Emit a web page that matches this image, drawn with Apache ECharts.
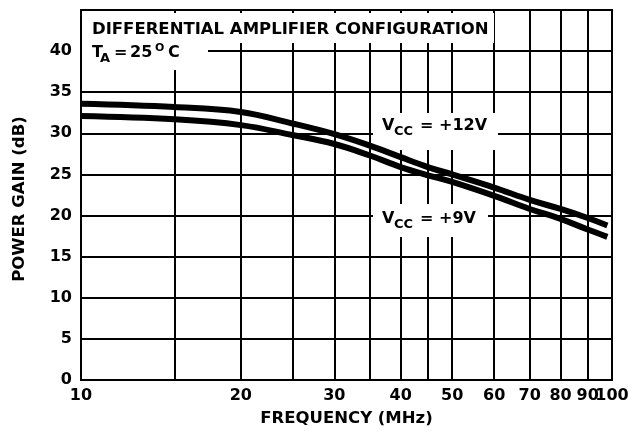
<!DOCTYPE html>
<html>
<head>
<meta charset="utf-8">
<script src="https://cdn.jsdelivr.net/npm/echarts@6/dist/echarts.min.js"></script>
<style>
  html, body { margin: 0; padding: 0; background: #fff; }
  #chart { width: 628px; height: 431px; }
</style>
</head>
<body>
<div id="chart"></div>
<script>
const freqs = [10, 15, 20, 25, 30, 35, 40, 45, 50, 60, 70, 80, 90, 98];
const gain12V = [33.6, 33.2, 32.6, 31.2, 29.9, 28.5, 27.1, 25.9, 25.0, 23.4, 21.9, 20.8, 19.7, 18.8];
const gain9V = [32.1, 31.7, 31.0, 29.8, 28.7, 27.3, 25.9, 24.9, 24.1, 22.4, 20.8, 19.6, 18.3, 17.4];
const gridFreqs = [15, 20, 25, 30, 35, 40, 45, 50, 60, 70, 80, 90];
const labelledFreqs = [20, 30, 40, 50, 60, 70, 80, 90];

const FONT = "'DejaVu Sans', 'Liberation Sans', sans-serif";
const ink = "#000";

function pairs(xs, ys) {
  return xs.map((x, i) => [x, ys[i]]);
}

// one piece of annotation text, placed by its top-left corner
function txt(text, left, top, size) {
  return {
    type: "text", zlevel: 1, z: 4, left, top,
    style: { text, font: "bold " + size + "px " + FONT, fill: ink }
  };
}

// white patch that hides the grid behind a note
function patch(x, y, width, height) {
  return { type: "rect", zlevel: 1, z: 3, shape: { x, y, width, height }, style: { fill: "#fff" } };
}

const chart = echarts.init(document.getElementById("chart"), null, { renderer: "canvas" });

const textBase = { fontFamily: FONT, fontWeight: "bold", fontSize: 16, color: ink };
const nameBase = { ...textBase, fontSize: 16.5 };

chart.setOption({
  animation: false,
  backgroundColor: "#fff",
  grid: {
    left: 81, right: 16, top: 10, bottom: 51,
    outerBoundsMode: "none",
    show: true, borderColor: ink, borderWidth: 2, backgroundColor: "transparent"
  },
  xAxis: {
    type: "log",
    logBase: 10,
    min: 10,
    max: 100,
    name: "FREQUENCY (MHz)",
    nameLocation: "middle",
    nameGap: 30,
    nameTextStyle: nameBase,
    axisLine: { lineStyle: { color: ink, width: 2 } },
    axisTick: { show: false },
    splitLine: { show: false },
    minorSplitLine: { show: false },
    axisLabel: { ...textBase, margin: 8 }
  },
  yAxis: {
    type: "value",
    min: 0,
    max: 45,
    interval: 5,
    name: "POWER GAIN (dB)",
    nameLocation: "middle",
    nameGap: 53,
    nameTextStyle: { ...nameBase, padding: [0, 0, 0, -8] },
    axisLine: { show: true, lineStyle: { color: ink, width: 2 } },
    axisTick: { show: false },
    splitLine: { show: true, lineStyle: { color: ink, width: 2 } },
    axisLabel: {
      ...textBase,
      margin: 9,
      formatter: (v) => (v === 45 ? "" : String(v))
    }
  },
  graphic: [
    patch(82, 13, 412, 30),
    patch(82, 43, 126, 27),
    patch(373, 113, 125, 37),
    patch(373, 204, 115, 33),

    txt("DIFFERENTIAL AMPLIFIER CONFIGURATION", 92, 21, 16.5),

    txt("T", 92, 45, 16),
    txt("A", 100, 52, 13),
    txt("=", 114, 45, 16),
    txt("25", 130, 45, 16),
    txt("O", 155, 43, 11),
    txt("C", 168, 45, 16),

    txt("V", 382, 118, 16),
    txt("CC", 394, 125, 13),
    txt("= +12V", 420, 118, 16),

    txt("V", 382, 211, 16),
    txt("CC", 394, 218, 13),
    txt("= +9V", 420, 211, 16)
  ],
  series: [
    {
      type: "line",
      name: "grid",
      z: 1,
      data: [],
      silent: true,
      markLine: {
        silent: true,
        symbol: "none",
        animation: false,
        lineStyle: { color: ink, width: 2, type: "solid" },
        data: gridFreqs.map((f) => ({
          xAxis: f,
          label: {
            show: labelledFreqs.includes(f),
            position: "start",
            distance: 8,
            formatter: String(f),
            ...textBase
          }
        }))
      }
    },
    {
      type: "line",
      name: "VCC = +12V",
      zlevel: 2,
      data: pairs(freqs, gain12V),
      smooth: 0.4,
      showSymbol: false,
      lineStyle: { color: ink, width: 6 }
    },
    {
      type: "line",
      name: "VCC = +9V",
      zlevel: 2,
      data: pairs(freqs, gain9V),
      smooth: 0.4,
      showSymbol: false,
      lineStyle: { color: ink, width: 6 }
    }
  ]
});
</script>
</body>
</html>
